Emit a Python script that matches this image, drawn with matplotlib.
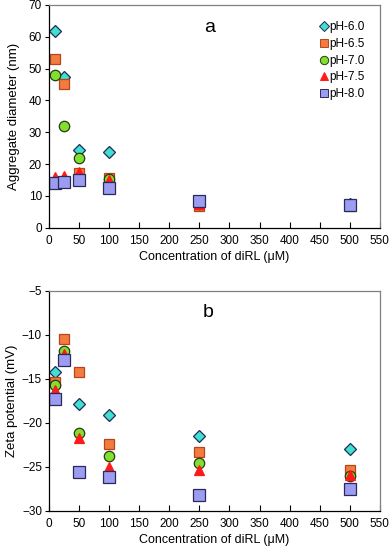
import matplotlib

matplotlib.use("Agg")
import matplotlib.pyplot as plt
from matplotlib.lines import Line2D

plt.rcParams["font.family"] = ["Liberation Sans", "DejaVu Sans"]

conc = [10, 25, 50, 100, 250, 500]
labels = ["pH-6.0", "pH-6.5", "pH-7.0", "pH-7.5", "pH-8.0"]

# aggregate diameter (nm)
diam_60 = [61.8, 47.5, 24.4, 23.7, 8.5, 7.5]
diam_65 = [53.0, 45.2, 17.2, 15.6, 7.0, 6.8]
diam_70 = [48.1, 32.0, 21.9, 15.2, 7.5, 7.2]
diam_75 = [16.0, 16.4, 17.5, 15.0, 7.5, 7.5]
diam_80 = [14.0, 14.3, 14.9, 12.4, 8.5, 7.3]

# zeta potential (mV)
zeta_60 = [-14.2, -12.5, -17.8, -19.1, -21.5, -23.0]
zeta_65 = [-15.3, -10.5, -14.2, -22.4, -23.3, -25.3]
zeta_70 = [-15.7, -11.8, -21.2, -23.7, -24.5, -26.0]
zeta_75 = [-16.3, -12.2, -21.7, -25.0, -25.4, -25.9]
zeta_80 = [-17.3, -12.9, -25.6, -26.1, -28.2, -27.5]

styles = [
    dict(marker="D", color="#40E0D0", mec="#1f2a5a", ms=6.5, lms=5.0),
    dict(marker="s", color="#F47B3F", mec="#b5451b", ms=7.5, lms=6.0),
    dict(marker="o", color="#7FE030", mec="#2a3a10", ms=7.5, lms=6.0),
    dict(marker="^", color="#FF1A1A", mec="#FF1A1A", ms=7.5, lms=6.0),
    dict(marker="s", color="#9C9CF0", mec="#2a2a5a", ms=8, lms=6.0),
]

fig = plt.figure(figsize=(3.92, 5.53), dpi=100)
ax1 = fig.add_axes([0.125, 0.588, 0.844, 0.403])
ax2 = fig.add_axes([0.125, 0.076, 0.844, 0.398])


def draw(ax, series):
    for ys, st in zip(series, styles):
        ax.plot(conc, ys, linestyle="none", marker=st["marker"],
                markerfacecolor=st["color"], markeredgecolor=st["mec"],
                markeredgewidth=0.9, markersize=st["ms"])
    ax.set_xlim(0, 550)
    ax.set_xticks(range(0, 551, 50))
    ax.set_xlabel("Concentration of diRL (\u03bcM)", fontsize=9, labelpad=3)
    ax.tick_params(axis="x", direction="in", length=4, labelsize=8.5, pad=5)
    ax.tick_params(axis="y", direction="out", length=3, labelsize=8.5, pad=2)
    for s in ("top", "right"):
        ax.spines[s].set_color("#808080")
    for s in ax.spines.values():
        s.set_linewidth(0.9)


draw(ax1, [diam_60, diam_65, diam_70, diam_75, diam_80])
ax1.set_ylim(0, 70)
ax1.set_yticks(range(0, 71, 10))
ax1.set_ylabel("Aggregate diameter (nm)", fontsize=9.5, labelpad=6)
ax1.text(0.487, 0.90, "a", transform=ax1.transAxes, fontsize=14,
         ha="center", va="center")

handles = [Line2D([], [], linestyle="none", marker=st["marker"],
                  markerfacecolor=st["color"], markeredgecolor=st["mec"],
                  markeredgewidth=0.7, markersize=st["lms"])
           for st in styles]
ax1.legend(handles, labels, loc="upper right", frameon=False, fontsize=8.5,
           handletextpad=0.05, handlelength=0.8, labelspacing=0.4,
           borderaxespad=0.6, bbox_to_anchor=(0.99, 0.98))

draw(ax2, [zeta_60, zeta_65, zeta_70, zeta_75, zeta_80])
ax2.set_ylim(-30, -5)
ax2.set_yticks(range(-30, -4, 5))
ax2.set_ylabel("Zeta potential (mV)", fontsize=9.5, labelpad=3)
ax2.text(0.48, 0.90, "b", transform=ax2.transAxes, fontsize=14,
         ha="center", va="center")

fig.savefig("out.png", dpi=100)
